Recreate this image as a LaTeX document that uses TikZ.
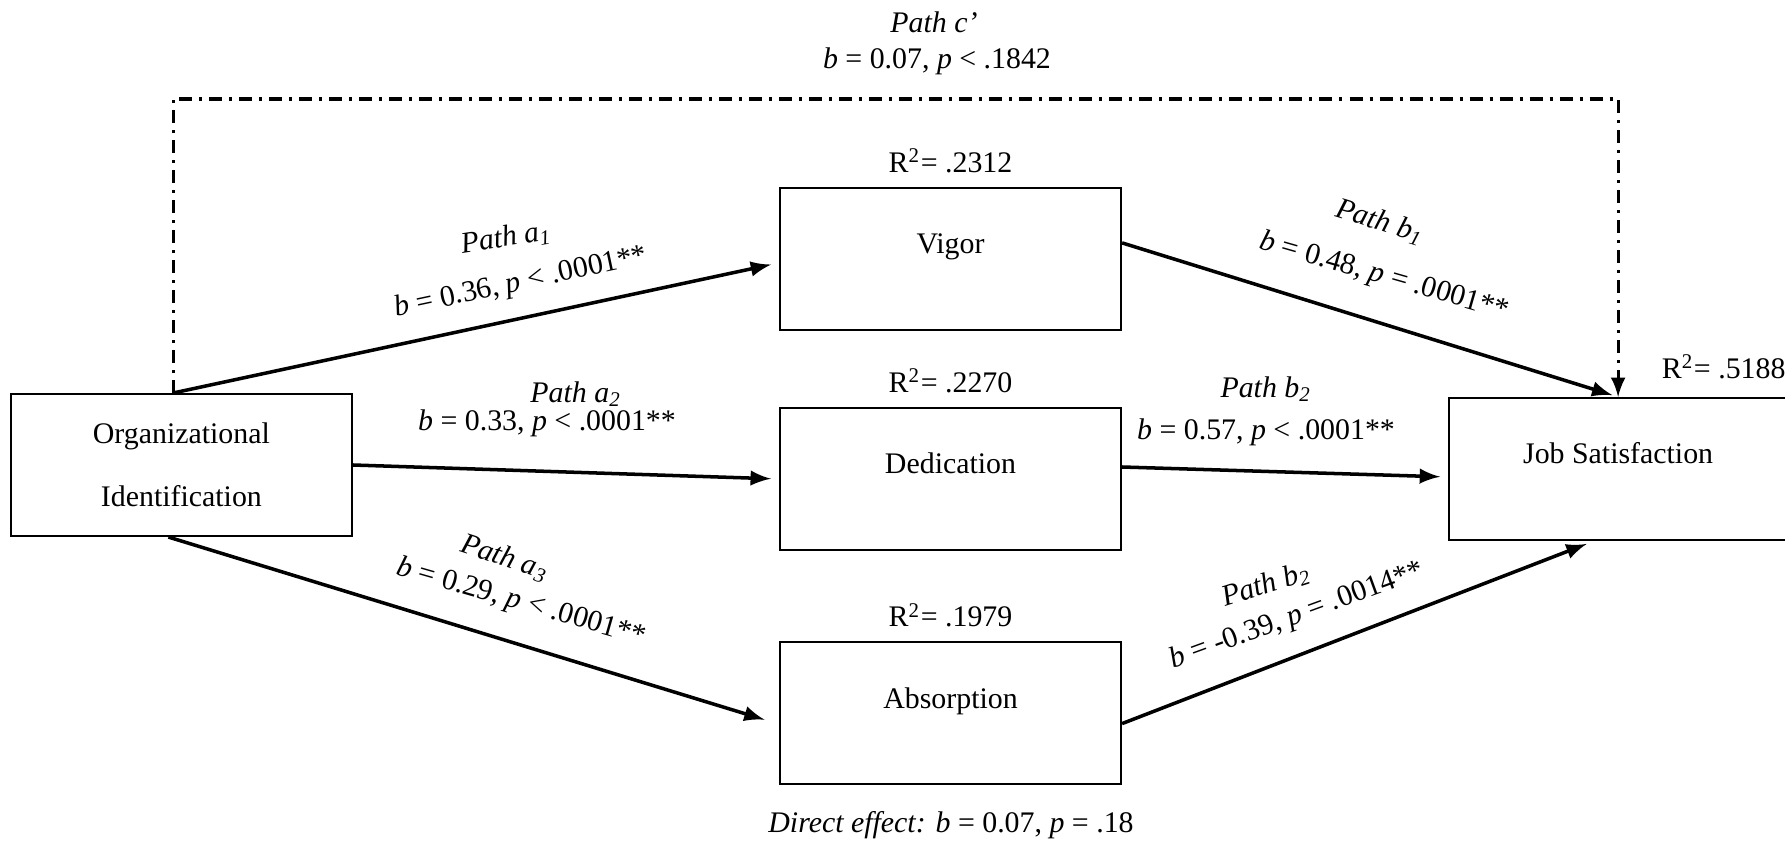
\documentclass[tikz,border=0pt]{standalone}
\usepackage{fontspec}
\setmainfont{Liberation Serif}
\usepackage{tikz}
\usetikzlibrary{positioning}

\begin{document}
\begin{tikzpicture}[>=latex, font=\fontsize{8.5}{10.5}\selectfont,
    var/.style={draw, line width=0.6pt, minimum width=3.41cm, minimum height=1.42cm, text height=0.2cm, text depth=0.3cm},
    lab/.style={inner sep=0pt},
    effect/.style={->, line width=1pt, shorten >=0.08cm},
    direct/.style={->, line width=0.9pt, dash pattern=on 0.13cm off 0.07cm on 0.03cm off 0.07cm}]
    \useasboundingbox (0,0) rectangle (17.85,-8.41);

    % Mediators
    \node [var] (ded) at (9.505,-4.79) {Dedication};
    \node [var, above=0.76cm of ded] (vigor) {Vigor};
    \node [var, below=0.9cm of ded] (abs) {Absorption};
    \node [lab, above=0.13cm of vigor] (r2vigor) {R\textsuperscript{2}= .2312};
    \node [lab, above=0.13cm of ded] (r2ded) {R\textsuperscript{2}= .2270};
    \node [lab, above=0.13cm of abs] (r2abs) {R\textsuperscript{2}= .1979};

    % Predictor and outcome
    \node [var, align=center, text height={}, text depth={}, font=\fontsize{8.5}{18}\selectfont,
           left=4.26cm of ded, yshift=0.14cm] (org) {Organizational\\Identification};
    \node [var, minimum width=3.38cm, right=3.26cm of ded, yshift=0.1cm] (jobsat) {Job Satisfaction};
    \node [lab, anchor=south west] (r2job) at ([xshift=0.43cm, yshift=0.17cm]jobsat.north) {R\textsuperscript{2}= .5188};

    % Direct path c'
    \draw [direct] ([xshift=-0.08cm]org.north) -- ++(0,2.94) -| (jobsat.north);
    \node [lab] (pc) at (9.34,-0.22) {\textit{Path c’}};
    \node [lab] (bc) at (9.37,-0.61) {\textit{b} = 0.07, \textit{p} < .1842};

    % a paths
    \draw [effect] ([xshift=-0.08cm]org.north) -- ([yshift=-0.04cm]vigor.west);
    \draw [effect] (org.east) -- (ded.west);
    \draw [effect, shorten >=0.15cm] ([xshift=-0.13cm]org.south) -- ([yshift=-0.11cm]abs.west);
    \node [lab, rotate=9] (pa1) at (5.06,-2.38) {\textit{Path a\textsubscript{1}}};
    \node [lab, rotate=12] (ba1) at (5.21,-2.83) {\textit{b} = 0.36, \textit{p} < .0001**};
    \node [lab] (pa2) at (5.76,-3.94) {\textit{Path a\textsubscript{2}}};
    \node [lab] (ba2) at (5.47,-4.23) {\textit{b} = 0.33, \textit{p} < .0001**};
    \node [lab, rotate=-18] (pa3) at (5.05,-5.58) {\textit{Path a\textsubscript{3}}};
    \node [lab, rotate=-16] (ba3) at (5.21,-6.03) {\textit{b} = 0.29, \textit{p} < .0001**};

    % b paths
    \draw [effect, shorten >=0.06cm] ([yshift=0.16cm]vigor.east) -- (jobsat.north);
    \draw [effect] ([yshift=0.12cm]ded.east) -- ([yshift=-0.08cm]jobsat.west);
    \draw [effect] ([yshift=-0.105cm]abs.east) -- ([xshift=-0.24cm]jobsat.south);
    \node [lab, rotate=-17] (pb1) at (13.80,-2.22) {\textit{Path b\textsubscript{1}}};
    \node [lab, rotate=-16] (bb1) at (13.84,-2.77) {\textit{b} = 0.48, \textit{p} = .0001**};
    \node [lab] (pb2) at (12.66,-3.89) {\textit{Path b\textsubscript{2}}};
    \node [lab] (bb2) at (12.66,-4.32) {\textit{b} = 0.57, \textit{p} < .0001**};
    \node [lab, rotate=18] (pb3) at (12.66,-5.85) {\textit{Path b\textsubscript{2}}};
    \node [lab, rotate=20] (bb3) at (12.97,-6.16) {\textit{b} = -0.39, \textit{p} = .0014**};

    % Note
    \node [lab] (note) at (9.51,-8.25) {\textit{Direct effect: b} = 0.07, \textit{p} = .18};
\end{tikzpicture}
\end{document}
